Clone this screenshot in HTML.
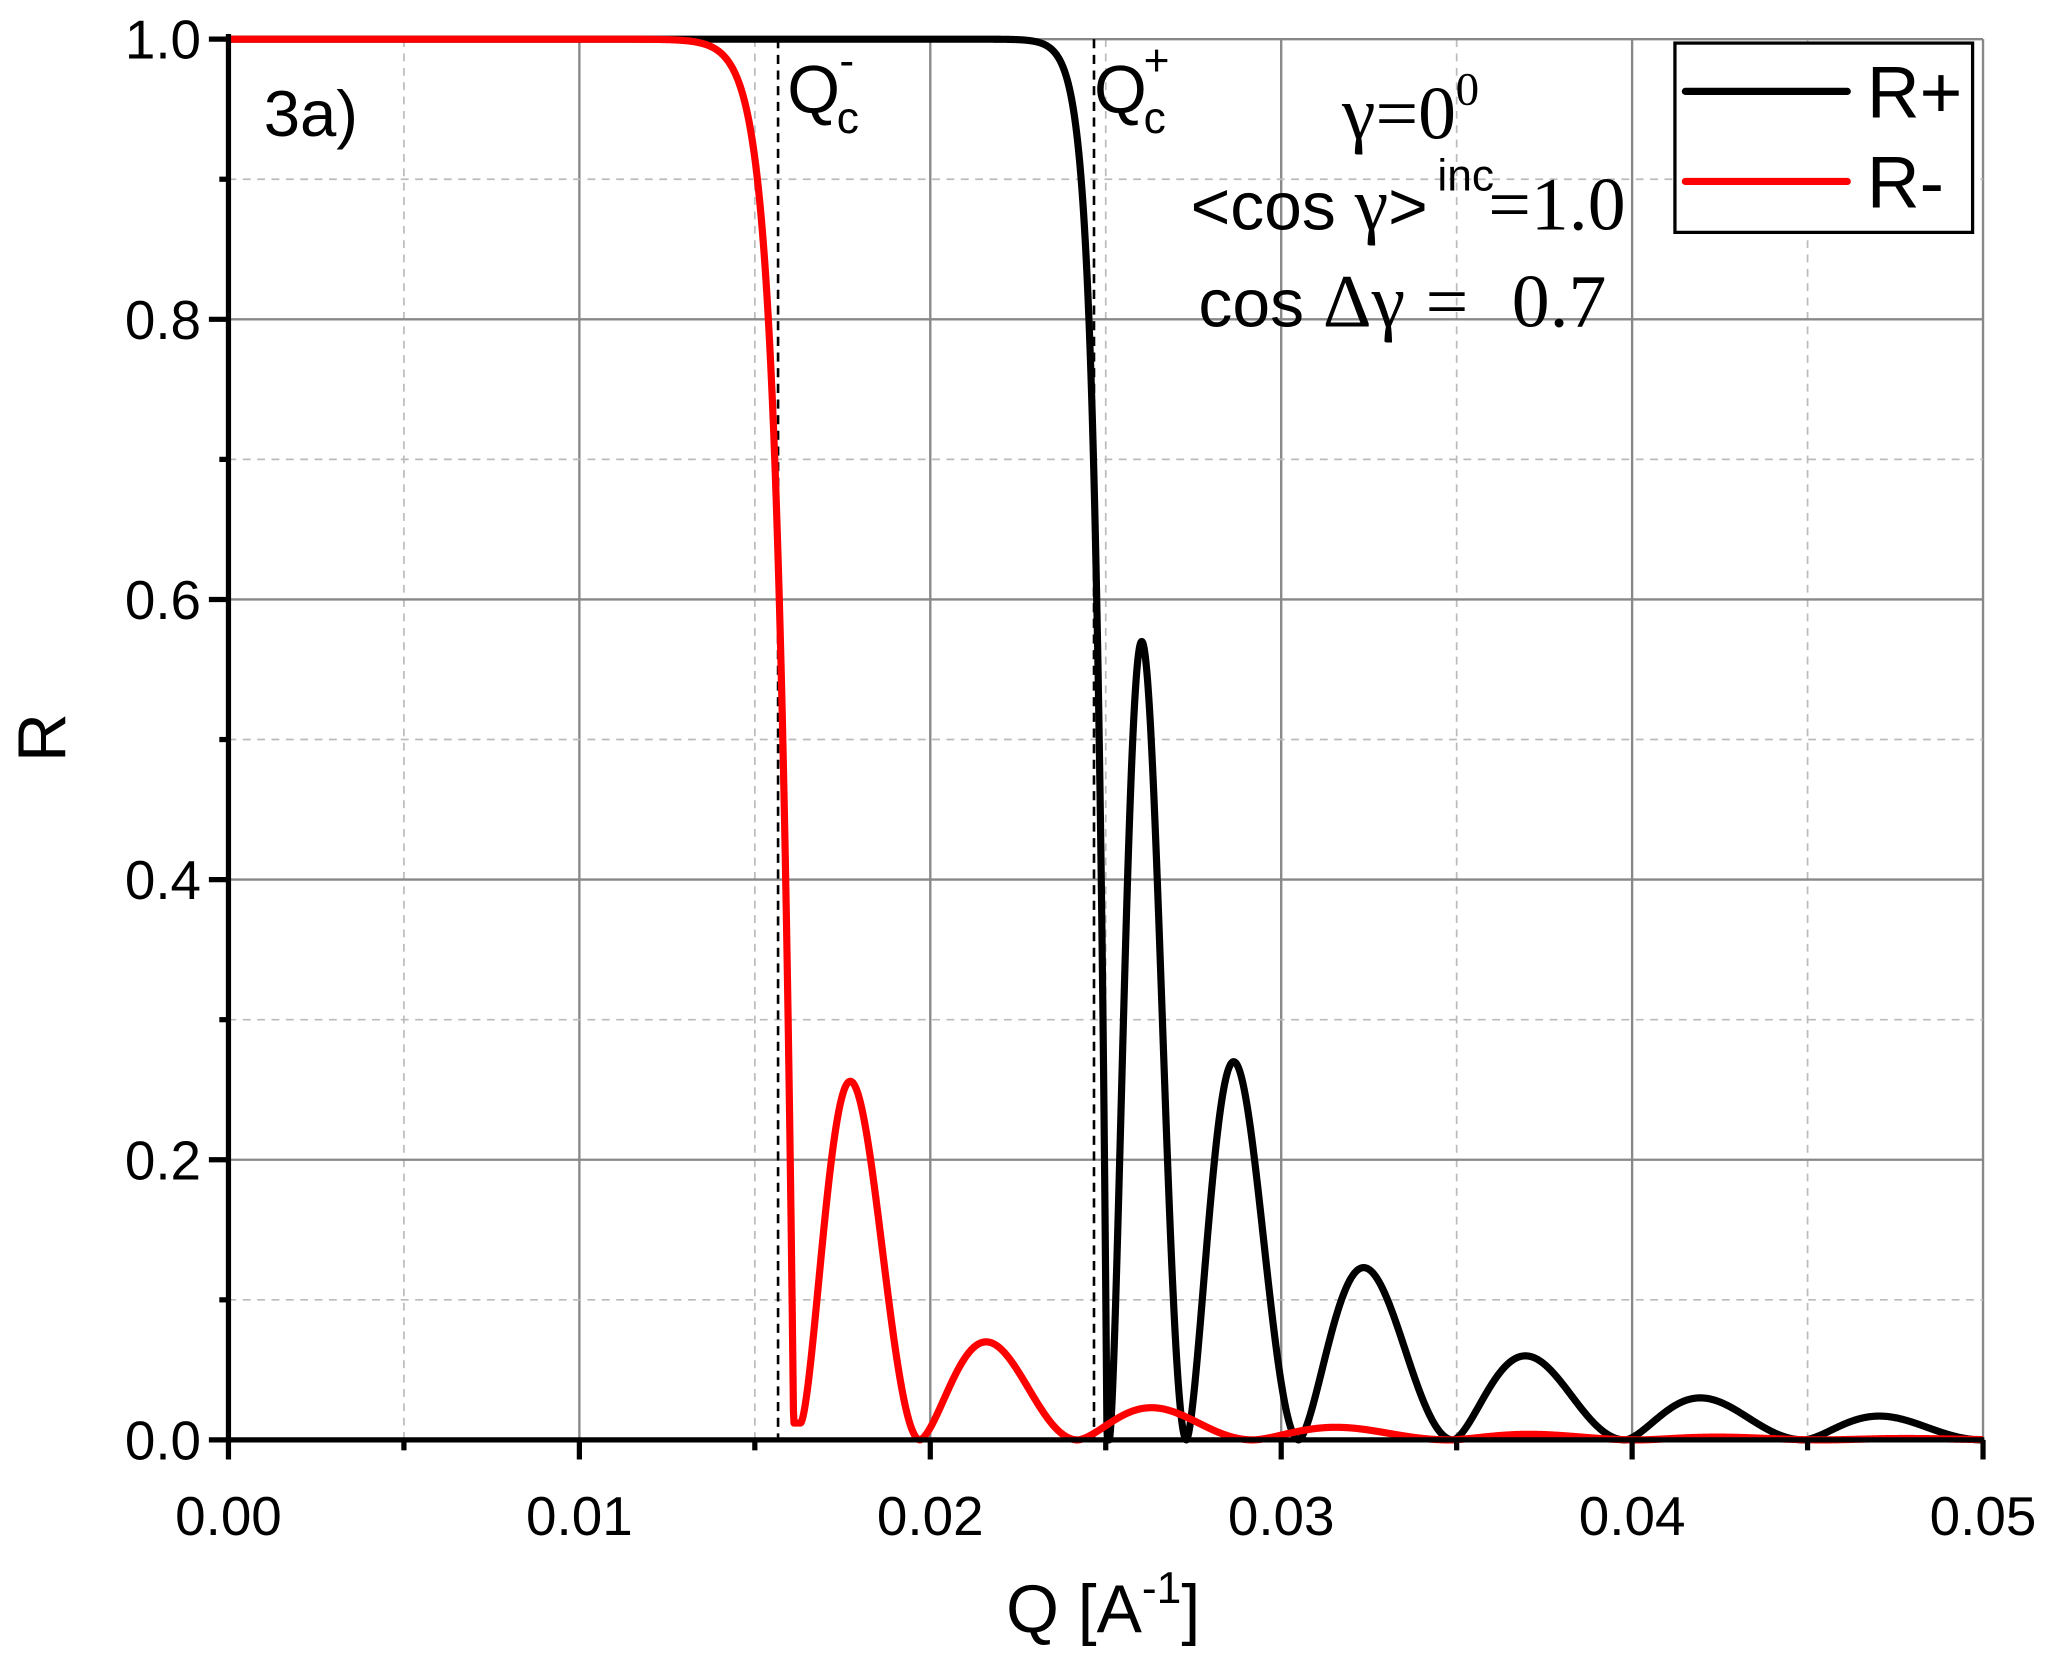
<!DOCTYPE html>
<html><head><meta charset="utf-8"><style>
html,body{margin:0;padding:0;background:#fff;}
svg{display:block;}
text{font-family:"Liberation Sans",sans-serif;}
.serif{font-family:"Liberation Serif",serif;}
</style></head><body>
<svg id="s" width="2047" height="1657" viewBox="0 0 1568 1269.3" preserveAspectRatio="none" xmlns="http://www.w3.org/2000/svg">
<g id="grid"></g>
<line x1="596" y1="30" x2="596" y2="1103" stroke="#000" stroke-width="2" stroke-dasharray="7,5"/>
<line x1="838" y1="30" x2="838" y2="1103" stroke="#000" stroke-width="2" stroke-dasharray="7,5"/>
<path id="pp" fill="none" stroke="#000" stroke-width="5.5" stroke-linejoin="round"/>
<path id="pm" fill="none" stroke="#f00" stroke-width="5.5" stroke-linejoin="round"/>
<g id="axes"></g>
<rect x="1283" y="33" width="228" height="145" fill="#fff" stroke="#000" stroke-width="2.5"/>
<line x1="1291" y1="70" x2="1415" y2="70" stroke="#000" stroke-width="5.5" stroke-linecap="round"/>
<line x1="1291" y1="139" x2="1415" y2="139" stroke="#f00" stroke-width="5.5" stroke-linecap="round"/>
<text x="1430" y="90" font-size="56">R+</text>
<text x="1430" y="159" font-size="56">R-</text>
<text x="202" y="104" font-size="50">3a)</text>
<text x="603" y="86" font-size="52">Q</text><text x="641" y="102" font-size="34">c</text><text x="643" y="58" font-size="34">-</text>
<text x="838" y="86" font-size="52">Q</text><text x="876" y="102" font-size="34">c</text><text x="876" y="58" font-size="34">+</text>
<text class="serif" x="1028" y="106" font-size="58">γ=0</text><text class="serif" x="1115" y="80" font-size="36">0</text>
<text x="912" y="176" font-size="52">&lt;cos <tspan font-family="Liberation Serif" font-size="58">γ</tspan>&gt;</text><text x="1101" y="146" font-size="34">inc</text><text class="serif" x="1140" y="176" font-size="58">=1.0</text>
<text x="918" y="250" font-size="52">cos <tspan font-family="Liberation Serif" font-size="58">Δγ</tspan></text><text class="serif" x="1092" y="250" font-size="58">=</text><text class="serif" x="1158" y="250" font-size="58">0.7</text>
<text x="845" y="1250" font-size="52" text-anchor="middle">Q [A<tspan font-size="34" dy="-22">-1</tspan><tspan dy="22">]</tspan></text>
<text x="50" y="565" font-size="52" text-anchor="middle" transform="rotate(-90 50 565)">R</text>
</svg>
<script>
var X0=175,SX=26880,Y0=1103,SY=1073;
function px(q){return X0+q*SX}function py(r){return Y0-r*SY}
var ns="http://www.w3.org/2000/svg";
function el(p,t,a){var e=document.createElementNS(ns,t);for(var k in a)e.setAttribute(k,a[k]);document.getElementById(p).appendChild(e);return e;}
for(var i=0;i<=10;i++){var x=px(i*0.005);if(i%2==0)el("grid","line",{x1:x,y1:30,x2:x,y2:1103,stroke:"#888","stroke-width":1.8});else el("grid","line",{x1:x,y1:30,x2:x,y2:1103,stroke:"#bbb","stroke-width":1.3,"stroke-dasharray":"6,5"});}
for(var i=0;i<=10;i++){var y=py(i*0.1);if(i%2==0)el("grid","line",{x1:175,y1:y,x2:1519,y2:y,stroke:"#888","stroke-width":1.8});else el("grid","line",{x1:175,y1:y,x2:1519,y2:y,stroke:"#bbb","stroke-width":1.3,"stroke-dasharray":"6,5"});}
el("axes","line",{x1:175,y1:26,x2:175,y2:1105,stroke:"#000","stroke-width":4});
el("axes","line",{x1:173,y1:1103,x2:1520,y2:1103,stroke:"#000","stroke-width":4});
for(var i=0;i<=10;i++){var x=px(i*0.005);el("axes","line",{x1:x,y1:1103,x2:x,y2:i%2==0?1118:1111,stroke:"#000","stroke-width":4});
 if(i%2==0){var t=el("axes","text",{x:x,y:1176,"font-size":42,"text-anchor":"middle"});t.textContent=(i*0.005).toFixed(2);}}
for(var i=0;i<=10;i++){var y=py(i*0.1);el("axes","line",{x1:i%2==0?160:168,y1:y,x2:175,y2:y,stroke:"#000","stroke-width":4});
 if(i%2==0){var t=el("axes","text",{x:154,y:y+15,"font-size":42,"text-anchor":"end"});t.textContent=(i*0.1).toFixed(1);}}
function curve(c,a,w,mins,peaks,r0){var d="",n=3000;for(var k=0;k<=n;k++){var q=0.05*k/n,r;
 if(q<mins[0]){r=Math.max(r0,1-a*Math.exp((q-c)/w));}
 else{r=0;for(var j=0;j<mins.length-1;j++){if(q>=mins[j]&&q<mins[j+1]){var f=(q-mins[j])/(mins[j+1]-mins[j]);f=Math.pow(f,0.8);var base=(j==0)?r0*(1-f):0;r=base+peaks[j]*Math.pow(Math.sin(Math.PI*f),2);break;}}}
 d+=(k?"L":"M")+px(q).toFixed(2)+","+py(r).toFixed(2);}return d;}
document.getElementById("pp").setAttribute("d",curve(0.0247,0.35,0.00032,[0.0251,0.0273,0.0305,0.0349,0.0398,0.0449,0.0500,0.06],[0.57,0.27,0.123,0.06,0.03,0.017,0.01],0));
document.getElementById("pm").setAttribute("d",curve(0.01575,0.45,0.00045,[0.0163,0.0197,0.0242,0.0292,0.0348,0.0402,0.0455,0.051],[0.25,0.07,0.023,0.009,0.004,0.002,0.001],0.012));
</script>
</body></html>
